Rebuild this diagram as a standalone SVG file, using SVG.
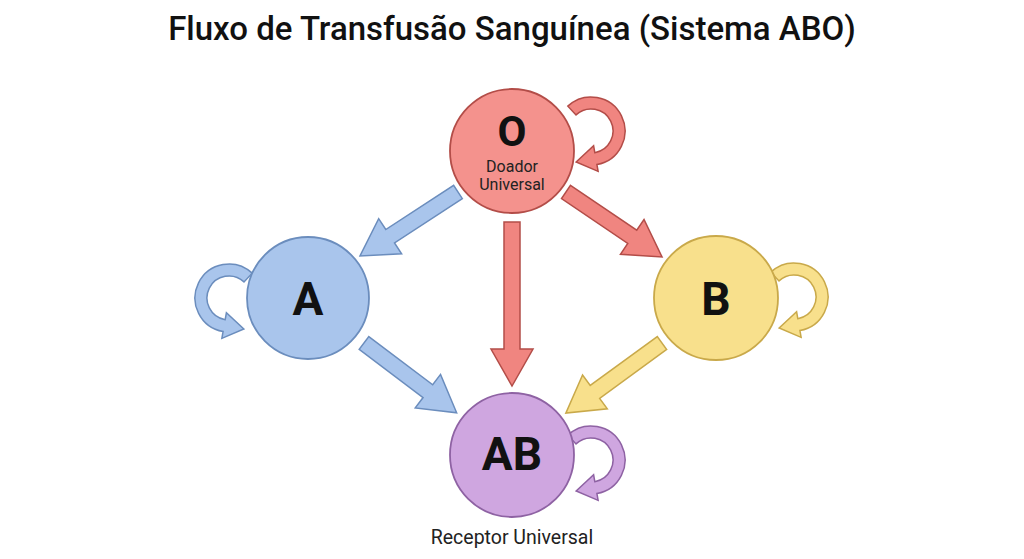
<svg xmlns="http://www.w3.org/2000/svg" xmlns:xlink="http://www.w3.org/1999/xlink" width="1024" height="559" viewBox="0 0 1024 559">
<style>
text{font-family:Roboto,"Liberation Sans",sans-serif;fill:#111;}
.title{font-size:33px;font-weight:500;}
.big{font-size:46px;font-weight:700;}
.small{font-size:16px;fill:#222;}
.red{fill:#f08580;stroke:#b34d48;stroke-width:1.5;}
.blue{fill:#a9c5ec;stroke:#6b8dbd;stroke-width:1.5;}
.yellow{fill:#f8e08c;stroke:#c9a94a;stroke-width:1.5;}
.purple{fill:#cfa6e0;stroke:#8e62a3;stroke-width:1.5;}
.nO{fill:#f4928d;stroke:#b34d48;stroke-width:1.8;}
.nA{fill:#a9c5ec;stroke:#6b8dbd;stroke-width:1.8;}
.nB{fill:#f8e08c;stroke:#c9a94a;stroke-width:1.8;}
.nAB{fill:#cfa6e0;stroke:#8e62a3;stroke-width:1.8;}
</style>
<defs>
<path id="loop" d="M-23.19,-24.85 A34,34 0 1 1 5.90,33.48 L7.12,40.38 L-14.84,31.04 L2.60,14.77 L3.82,21.67 A22,22 0 1 0 -15.00,-16.08 Z"/>
</defs>
<rect width="1024" height="559" fill="#ffffff"/>
<text class="title" x="512" y="40" text-anchor="middle">Fluxo de Transfusão Sanguínea (Sistema ABO)</text>
<g id="connectors">
<path class="blue" transform="translate(458,192) rotate(146.9)" d="M0,-8 L81,-8 L81,-21 L117,0 L81,21 L81,8 L0,8 Z"/>
<path class="red" transform="translate(512,222) rotate(90)" d="M0,-8 L127,-8 L127,-21 L164,0 L127,21 L127,8 L0,8 Z"/>
<path class="red" transform="translate(566,192) rotate(34.1)" d="M0,-8 L80,-8 L80,-21 L116,0 L80,21 L80,8 L0,8 Z"/>
<path class="blue" transform="translate(364,343) rotate(37)" d="M0,-8 L80,-8 L80,-21 L116,0 L80,21 L80,8 L0,8 Z"/>
<path class="yellow" transform="translate(662,343) rotate(143.9)" d="M0,-8 L83,-8 L83,-21 L119,0 L83,21 L83,8 L0,8 Z"/>
<use xlink:href="#loop" class="red" transform="translate(591,131)"/>
<use xlink:href="#loop" class="blue" transform="translate(229,298) scale(-1,1)"/>
<use xlink:href="#loop" class="yellow" transform="translate(794,297)"/>
<use xlink:href="#loop" class="purple" transform="translate(591,460)"/>
</g>
<g id="node-O">
<circle class="nO" cx="512" cy="151" r="62"/>
<text class="big" x="512" y="146" text-anchor="middle" style="font-size:42px">O</text>
<text class="small" x="512" y="172" text-anchor="middle">Doador</text>
<text class="small" x="512" y="190" text-anchor="middle">Universal</text>
</g>
<g id="node-A">
<circle class="nA" cx="308" cy="298" r="61"/>
<text class="big" x="308" y="315" text-anchor="middle">A</text>
</g>
<g id="node-B">
<circle class="nB" cx="716" cy="298" r="62"/>
<text class="big" x="716" y="315" text-anchor="middle">B</text>
</g>
<g id="node-AB">
<circle class="nAB" cx="512" cy="455" r="62"/>
<text class="big" x="512" y="470" text-anchor="middle">AB</text>
<text class="small" x="512" y="544" text-anchor="middle" style="font-size:19.5px">Receptor Universal</text>
</g>
</svg>
